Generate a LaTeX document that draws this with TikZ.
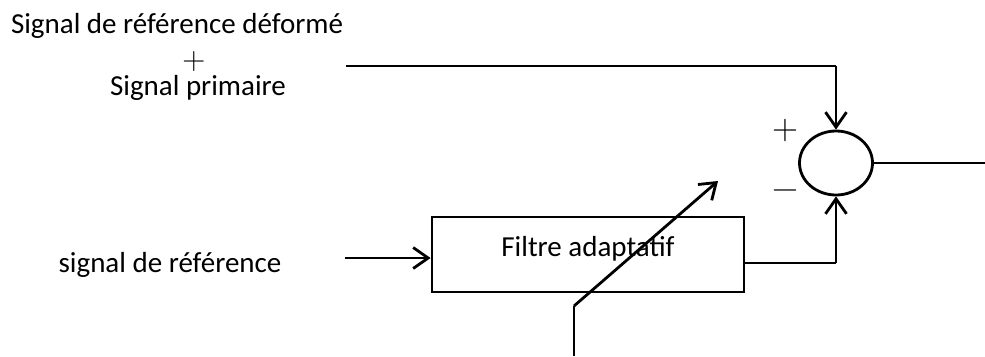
\documentclass[tikz,border=0pt]{standalone}
\usepackage{fontspec}
\setmainfont{Carlito}
\newfontfamily\signfont{Latin Modern Roman}
\usetikzlibrary{arrows.meta,shapes.geometric}
\begin{document}
\begin{tikzpicture}[x=1pt,y=-1pt,
  txt/.style={font=\fontsize{29}{33}\selectfont,inner sep=0pt},
  sign/.style={font=\signfont\fontsize{32}{32}\selectfont,inner sep=0pt},
  thinline/.style={line width=1.6pt},
  thickline/.style={line width=2.8pt},
  arr/.style={thickline,-{Straight Barb[length=15pt,width=21pt,line width=2.8pt]}},
  box/.style={draw,line width=2.8pt,minimum width=312pt,minimum height=75pt,inner sep=0pt,text depth=17pt},
  summer/.style={draw,ellipse,line width=2.8pt,minimum width=73pt,minimum height=64pt,inner sep=0pt}]
\useasboundingbox (0,0) rectangle (985,356);

% labels on the left
\node[txt] (deform) at (177,26) {Signal de référence déformé};
\node[sign] (plus) at (194,62) {+};
\node[txt] (prim) at (198,88) {Signal primaire};
\node[txt] (ref) at (170,265) {signal de référence};

% blocks
\node[box,txt] (filt) at (588,254.5) {Filtre adaptatif};
\node[summer] (sum) at (836,163) {};
\node[sign,font=\signfont\fontsize{36}{36}\selectfont] (splus) at (785,131) {+};
\node[sign,font=\signfont\fontsize{36}{36}\selectfont] (sminus) at (785,195) {−};

% free ends of the connectors
\coordinate (tl) at (346,66);
\coordinate (tc) at (836,66);
\coordinate (in) at (345,258);
\coordinate (bo) at (744,263);
\coordinate (bc) at (836,263);
\coordinate (out) at (985,163);
\coordinate (d0) at (574,306);
\coordinate (d1) at (718,181);
\coordinate (d2) at (574,356);

% primary path into the summer
\draw[thinline] (tl) -- (tc);
\draw[arr] (tc) -- (sum.north);
% reference input to the filter
\draw[arr] (in) -- (in -| filt.west);
% filter output to the summer
\draw[thinline] (bo) -- (bc);
\draw[arr] (bc) -- (sum.south);
% error output
\draw[thinline] (sum.east) -- (out);
% adaptation arrow across the filter
\draw[thinline] (d2) -- (d0);
\draw[arr] (d0) -- (d1);
\end{tikzpicture}
\end{document}
